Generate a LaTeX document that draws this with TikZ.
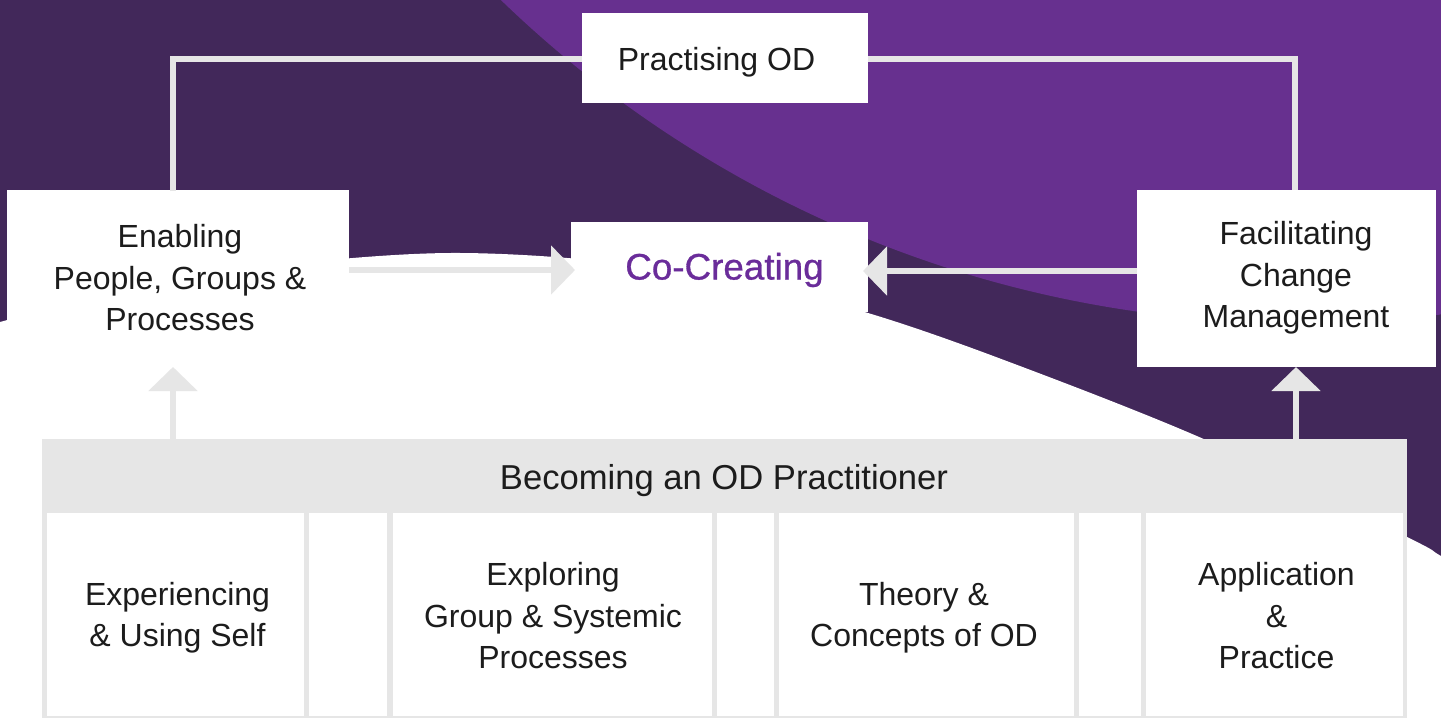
\documentclass[tikz,border=0pt]{standalone}
\usepackage{fontspec}
\setmainfont{Liberation Sans}
\newfontfamily\medfont[FakeBold=0.8]{Liberation Sans}
\usetikzlibrary{arrows.meta}
\definecolor{bgdark}{HTML}{42285A}
\definecolor{bglight}{HTML}{67308F}
\definecolor{bgedge}{HTML}{4A1D6C}
\definecolor{linegray}{HTML}{E6E6E6}
\definecolor{txt}{HTML}{1C1C1C}
\definecolor{cocreate}{HTML}{6A2C9A}
\pgfdeclareradialshading{lightband}{\pgfpoint{0bp}{0bp}}{color(0bp)=(bglight); color(48.1bp)=(bglight); color(50bp)=(bgedge)}
\tikzset{
  whitebox/.style={fill=white, draw=none, inner sep=0pt, outer sep=0pt},
  graybar/.style={fill=linegray, draw=none, inner sep=0pt, outer sep=0pt},
  lbl/.style={text=txt, align=center, inner sep=0pt, font=\fontsize{16}{20.75}\selectfont},
  conn/.style={draw=linegray, line width=2.8pt},
  arrowc/.style={draw=linegray, line width=2.8pt, -{Triangle[length=12pt,width=24pt]}}
}
\begin{document}
\begin{tikzpicture}[x=0.5pt, y=-0.5pt]
\useasboundingbox (0,0) rectangle (1441,718);
\clip (0,0) rectangle (1441,718);
% background
\fill[bgdark] (0,0) rectangle (1441,718);
\shade[shading=lightband] (1300,-827) circle [radius=1150];
\fill[white] plot[smooth, tension=0.55] coordinates {(-60,342) (0,322) (150,285) (300,263) (450,253) (600,261) (750,284) (868,313) (1004,360) (1206,440) (1407,537) (1441,556) (1500,590)} -- (1500,800) -- (-60,800) -- cycle;

% top boxes
\node[whitebox, minimum width=143pt, minimum height=45pt] (pract) at (725,58) {};
\node[whitebox, minimum width=171pt, minimum height=88.5pt] (enab) at (178,278.5) {};
\node[whitebox, minimum width=149.5pt, minimum height=88.5pt] (facil) at (1286.5,278.5) {};
\node[whitebox, minimum width=148.5pt, minimum height=45pt] (cocr) at (719.5,267) {};

% bottom bar
\node[graybar, minimum width=682.5pt, minimum height=139.5pt] (bar) at (724.5,578.5) {};
\node[whitebox, minimum width=128.5pt, minimum height=101.5pt] (b1) at (175.5,614.5) {};
\node[whitebox, minimum width=39pt, minimum height=101.5pt] (f1) at (348,614.5) {};
\node[whitebox, minimum width=159.5pt, minimum height=101.5pt] (b2) at (552.5,614.5) {};
\node[whitebox, minimum width=28.5pt, minimum height=101.5pt] (f2) at (745.5,614.5) {};
\node[whitebox, minimum width=147.5pt, minimum height=101.5pt] (b3) at (926.5,614.5) {};
\node[whitebox, minimum width=31pt, minimum height=101.5pt] (f3) at (1110,614.5) {};
\node[whitebox, minimum width=128.5pt, minimum height=101.5pt] (b4) at (1274.5,614.5) {};

% labels
\node[lbl] (practT) at (716.5,62) {Practising OD};
\node[lbl] (enabT) at (180,278) {Enabling\\People, Groups \&\\Processes};
\node[lbl] (facilT) at (1296,278) {Facilitating\\Change\\Management};
\node[lbl, text=cocreate, font=\medfont\fontsize{18.4}{22}\selectfont] (cocrT) at (724.5,270) {Co-Creating};
\node[lbl, font=\fontsize{17.3}{22}\selectfont] (barT) at (724,481) {Becoming an OD Practitioner};
\node[lbl] (b1T) at (177.5,617.5) {Experiencing\\\& Using Self};
\node[lbl] (b2T) at (553,616) {Exploring\\Group \& Systemic\\Processes};
\node[lbl] (b3T) at (924,617.5) {Theory \&\\Concepts of OD};
\node[lbl] (b4T) at (1276.5,616) {Application\\\&\\Practice};

% connectors
\draw[conn] ([xshift=-2.5pt,yshift=-0.5pt]enab.north) |- ([yshift=-0.5pt]pract.west);
\draw[conn] ([yshift=-0.5pt]pract.east) -| ([xshift=4.25pt]facil.north);
\coordinate (ac1) at ([xshift=2pt,yshift=-1.5pt]cocr.west);
\coordinate (ac2) at ([xshift=-2.5pt,yshift=-2pt]cocr.east);
\draw[arrowc] (enab.east |- ac1) -- (ac1);
\draw[arrowc] (facil.west |- ac2) -- (ac2);
\coordinate (ac3) at ([xshift=-2.5pt]enab.south);
\coordinate (ac4) at ([xshift=4.75pt]facil.south);
\draw[arrowc] (bar.north -| ac3) -- (ac3);
\draw[arrowc] (bar.north -| ac4) -- (ac4);
\end{tikzpicture}
\end{document}
